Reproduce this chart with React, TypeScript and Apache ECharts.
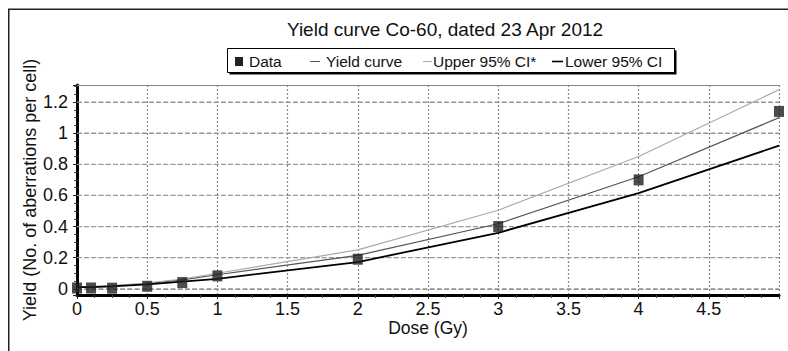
import React, { useEffect, useRef } from 'react';
import * as echarts from 'echarts';

const titleText = 'Yield curve Co-60, dated 23 Apr 2012';
const xName = 'Dose (Gy)';
const yName = 'Yield (No. of aberrations per cell)';
const seriesNames = ['Data', 'Yield curve', 'Upper 95% CI*', 'Lower 95% CI'];

const doses = [0, 0.1, 0.25, 0.5, 0.75, 1, 2, 3, 4, 5];
const observedYield = [0.005, 0.005, 0.004, 0.016, 0.04, 0.083, 0.19, 0.4, 0.7, 1.14];
const fittedYield = [0.012, 0.013, 0.018, 0.034, 0.057, 0.09, 0.215, 0.418, 0.72, 1.1];
const upperCI = [0.013, 0.014, 0.02, 0.037, 0.063, 0.1, 0.25, 0.505, 0.85, 1.28];
const lowerCI = [0.01, 0.011, 0.015, 0.028, 0.046, 0.064, 0.172, 0.36, 0.615, 0.92];

const yGridValues = [0, 0.2, 0.4, 0.6, 0.8, 1, 1.2];
const xGridRange = [0, 5];

const FONT = '"Liberation Sans", Arial, Helvetica, sans-serif';

function pairs(xs: number[], ys: number[]) {
  return xs.map((x, i) => [x, ys[i]]);
}

export default function App() {
  const ref = useRef<HTMLDivElement>(null);
  useEffect(() => {
    if (!ref.current) return;
    const chart = echarts.init(ref.current, undefined, { renderer: 'svg' });
    const legendFont = 15.5;
    const ly = 61.5;
    const gridSeries = yGridValues.map((v) => ({
      type: 'line',
      silent: true,
      clip: false,
      data: xGridRange.map((x) => [x, v]),
      symbol: 'none',
      lineStyle: { color: '#999', width: 1.2, type: 'dashed', dashOffset: 0 },
      z: 1,
    }));
    chart.setOption({
      animation: false,
      backgroundColor: '#fff',
      textStyle: { fontFamily: FONT },
      title: {
        text: titleText,
        left: 445,
        top: 20,
        textAlign: 'center',
        padding: 0,
        textStyle: { fontFamily: FONT, fontSize: 19, fontWeight: 'normal', color: '#111' },
      },
      grid: { left: 77, right: 9, top: 85, bottom: 56, containLabel: false },
      xAxis: [
        {
          type: 'value',
          min: 0,
          max: 5,
          interval: 0.5,
          name: xName,
          nameLocation: 'middle',
          nameGap: 25,
          nameMoveOverlap: false,
          nameTextStyle: { fontFamily: FONT, fontSize: 17.5, lineHeight: 15, color: '#111' },
          axisLine: { show: true, onZero: false, lineStyle: { color: '#000', width: 3 } },
          axisTick: { show: true, length: 4, lineStyle: { color: '#222', width: 1 } },
          minorTick: { show: true, splitNumber: 4, length: 3, lineStyle: { color: '#444', width: 1 } },
          axisLabel: { showMaxLabel: false, margin: 6, lineHeight: 15, fontFamily: FONT, fontSize: 18, color: '#111' },
          splitLine: { show: true, lineStyle: { color: '#888', width: 1.2, type: [2, 2] } },
        },
        {
          type: 'value',
          position: 'top',
          min: 0,
          max: 5,
          axisLine: { show: true, onZero: false, lineStyle: { color: '#888', width: 1 } },
          axisTick: { show: false },
          axisLabel: { show: false },
          splitLine: { show: false },
        },
      ],
      yAxis: {
        type: 'value',
        min: -0.04,
        max: 1.31,
        splitNumber: 7,
        name: yName,
        nameLocation: 'middle',
        nameGap: 38,
        nameMoveOverlap: false,
        nameTextStyle: { fontFamily: FONT, fontSize: 18, color: '#111' },
        axisLine: { show: true, onZero: false, lineStyle: { color: '#000', width: 3 } },
        axisTick: { show: true, length: 4, lineStyle: { color: '#222', width: 1 } },
        minorTick: { show: true, splitNumber: 4, length: 3, lineStyle: { color: '#444', width: 1 } },
        axisLabel: { showMinLabel: false, showMaxLabel: false, margin: 9, fontFamily: FONT, fontSize: 18, color: '#111' },
        splitLine: { show: true, lineStyle: { color: '#888', width: 1.2, type: 'dashed' } },
      },
      series: [
        ...gridSeries,
        {
          name: seriesNames[1],
          type: 'line',
          data: pairs(doses, fittedYield),
          symbol: 'none',
          lineStyle: { color: '#555', width: 1.2 },
          z: 3,
        },
        {
          name: seriesNames[2],
          type: 'line',
          data: pairs(doses, upperCI),
          symbol: 'none',
          lineStyle: { color: '#aaa', width: 1.2 },
          z: 3,
        },
        {
          name: seriesNames[3],
          type: 'line',
          data: pairs(doses, lowerCI),
          symbol: 'none',
          lineStyle: { color: '#000', width: 1.8 },
          z: 3,
        },
        {
          name: seriesNames[0],
          type: 'scatter',
          data: pairs(doses, observedYield),
          symbol: 'rect',
          symbolSize: [10, 11],
          itemStyle: { color: '#1f1f1f' },
          z: 5,
        },
      ],
      graphic: [
        {
          type: 'rect',
          silent: true,
          shape: { x: 8.75, y: 9.25, width: 900, height: 500 },
          style: { fill: 'none', stroke: '#222', lineWidth: 1.5 },
          z: 100,
        },
        {
          type: 'rect',
          silent: true,
          shape: { x: 229.5, y: 50.5, width: 447, height: 24 },
          style: { fill: '#000' },
          z: 100,
        },
        {
          type: 'rect',
          silent: true,
          shape: { x: 227.5, y: 48.5, width: 447, height: 24 },
          style: { fill: '#fff', stroke: '#000', lineWidth: 1 },
          z: 101,
        },
        {
          type: 'rect',
          silent: true,
          shape: { x: 235, y: 57, width: 8, height: 9 },
          style: { fill: '#222' },
          z: 102,
        },
        {
          type: 'text',
          silent: true,
          x: 249,
          y: ly,
          style: { text: seriesNames[0], fontFamily: FONT, fontSize: legendFont, fill: '#111', verticalAlign: 'middle' },
          z: 102,
        },
        {
          type: 'line',
          silent: true,
          shape: { x1: 310, y1: 61.5, x2: 320, y2: 61.5 },
          style: { stroke: '#555', lineWidth: 1 },
          z: 102,
        },
        {
          type: 'text',
          silent: true,
          x: 326,
          y: ly,
          style: { text: seriesNames[1], fontFamily: FONT, fontSize: legendFont, fill: '#111', verticalAlign: 'middle' },
          z: 102,
        },
        {
          type: 'line',
          silent: true,
          shape: { x1: 423, y1: 61.5, x2: 432, y2: 61.5 },
          style: { stroke: '#aaa', lineWidth: 1 },
          z: 102,
        },
        {
          type: 'text',
          silent: true,
          x: 433,
          y: ly,
          style: { text: seriesNames[2], fontFamily: FONT, fontSize: legendFont, fill: '#111', verticalAlign: 'middle' },
          z: 102,
        },
        {
          type: 'line',
          silent: true,
          shape: { x1: 552, y1: 61.5, x2: 563, y2: 61.5 },
          style: { stroke: '#000', lineWidth: 1.6 },
          z: 102,
        },
        {
          type: 'text',
          silent: true,
          x: 565,
          y: ly,
          style: { text: seriesNames[3], fontFamily: FONT, fontSize: legendFont, fill: '#111', verticalAlign: 'middle' },
          z: 102,
        },
      ],
    });
    return () => chart.dispose();
  }, []);
  return <div ref={ref} style={{ position: 'fixed', left: 0, top: 0, width: 788, height: 351 }} />;
}
